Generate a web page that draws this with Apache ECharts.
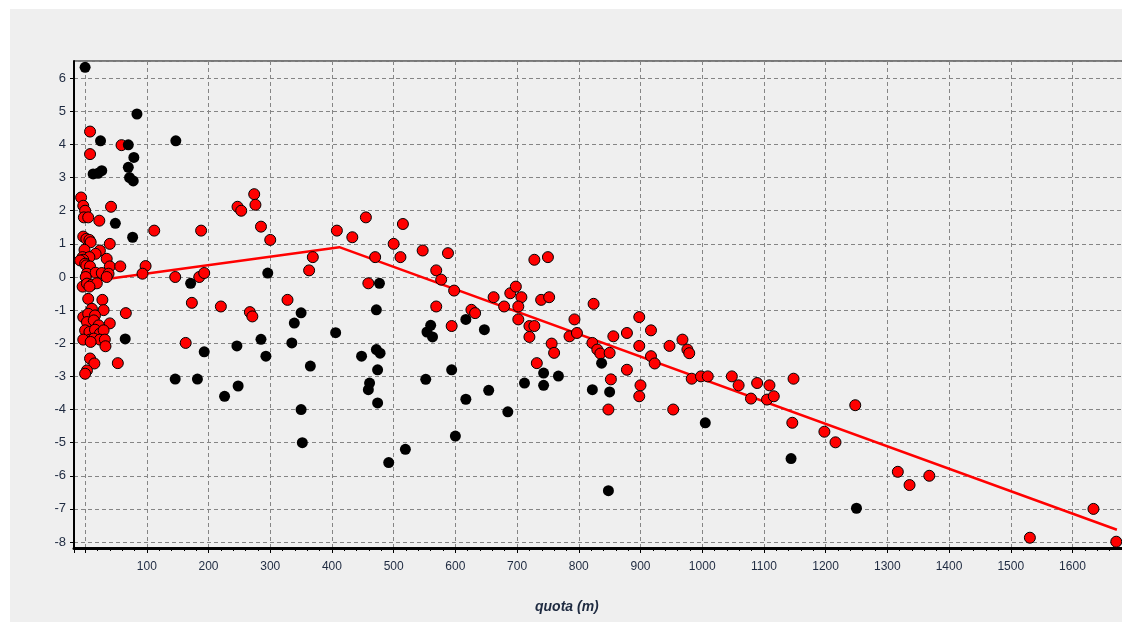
<!DOCTYPE html>
<html>
<head>
<meta charset="utf-8">
<script src="https://cdn.jsdelivr.net/npm/echarts@6/dist/echarts.min.js"></script>
<style>
  html, body { margin: 0; padding: 0; background: #ffffff; overflow: hidden; width: 1122px; height: 622px; }
  #panel { position: absolute; left: 10px; top: 9px; width: 1112px; height: 613px; background: #efefef; }
  #chart { position: absolute; left: 0; top: 0; width: 1140px; height: 622px; }
</style>
</head>
<body>
<div id="panel"></div>
<div id="chart"></div>
<script>
// Red points (quota, residual)
const redX = [8, 59, 8, -6.5, -3, 0, -2, 5, 42, 23, 112, -3, 2, 7, 9, 40, -1, 24, -4, 17, 7, -3, -8, 35,
  0, 2, 8, 40, 57, 98, 93, 3, 17, 27, 38, 1, 35, -4, 3, 11, 19, 7, 5, 28, 30, 66, 11, -3, 5, 16, 3, 14, 22, 40,
  0, 7, 16, 24, 30, 8, -3, 14, 24, 32, 33, 9, 8, 15, 53, 3, 0,
  188, 274, 247, 253, 276, 285, 300, 146, 185, 193, 408, 433, 455, 369, 363, 470, 459, 328, 173, 220, 267, 271, 163,
  515, 500, 511, 547, 588, 569, 577, 598, 569, 594, 626, 632, 662, 679, 689, 698, 707, 702, 702, 728, 750, 739, 752,
  720, 728, 720, 756, 760, 732, 793, 785, 797, 824, 856, 878, 822, 830, 835, 850, 878, 852, 848, 898, 917, 898, 900,
  898, 917, 923, 947, 968, 976, 979, 953, 983, 998, 1009, 1048, 1059, 1079, 1089, 1109, 1105, 1116, 1148, 1146, 1198,
  1216, 1248, 1317, 1336, 1368, 1531, 1634, 1671];
const redY = [4.39, 3.98, 3.71, 2.4, 2.15, 2.0, 1.8, 1.8, 2.12, 1.70, 1.40, 1.22, 1.15, 1.12, 1.05, 1.0, 0.82, 0.8, 0.6, 0.7, 0.6, 0.52, 0.5, 0.55,
  0.4, 0.35, 0.32, 0.32, 0.32, 0.33, 0.1, 0.1, 0.13, 0.12, 0.1, 0.0, 0.0, -0.29, -0.2, -0.23, -0.19, -0.29, -0.66, -0.69, -1.0, -1.09, -0.96, -1.21, -1.11, -1.16, -1.36, -1.31, -1.46, -1.4,
  -1.61, -1.66, -1.59, -1.71, -1.61, -1.89, -1.89, -1.86, -1.89, -1.89, -2.09, -1.96, -2.46, -2.61, -2.6, -2.82, -2.92,
  1.4, 2.5, 2.12, 2.0, 2.18, 1.52, 1.12, 0.0, 0.0, 0.12, 1.4, 1.2, 1.8, 0.6, 0.2, 0.6, -0.19, -0.69, -0.78, -0.89, -1.06, -1.19, -1.99,
  1.6, 1.0, 0.6, 0.8, 0.72, 0.2, -0.08, -0.41, -0.89, -1.48, -0.99, -1.09, -0.61, -0.89, -0.49, -0.29, -0.61, -0.89, -1.28, 0.52, 0.6, -0.69, -0.61,
  -1.48, -1.48, -1.81, -2.01, -2.29, -2.6, -1.28, -1.79, -1.69, -0.81, -1.79, -1.69, -1.99, -2.19, -2.31, -2.29, -2.8, -3.09, -4.0, -1.21, -1.61, -2.08, -3.27,
  -3.6, -2.39, -2.61, -2.08, -1.89, -2.19, -2.3, -4.0, -3.07, -3.0, -3.0, -3.0, -3.27, -3.67, -3.2, -3.27, -3.7, -3.6, -3.07, -4.4, -4.67,
  -4.99, -3.87, -5.88, -6.28, -6.0, -7.87, -7.0, -7.99];

// Black points (quota, residual)
const blackX = [0, 84, 25, 70, 79, 70, 13, 21, 27, 72, 78, 49, 77, 65, 147, 171, 296, 477, 350, 339, 406, 472, 193, 246,
  285, 293, 335, 365, 448, 472, 478, 474, 146, 182, 248, 226, 461, 459, 474, 350, 352, 492, 560, 554, 563, 617, 647,
  743, 767, 743, 712, 594, 552, 654, 617, 685, 600, 519, 837, 822, 850, 848, 1005, 1144, 1250];
const blackY = [6.33, 4.92, 4.11, 3.99, 3.61, 3.31, 3.11, 3.13, 3.21, 3.0, 2.9, 1.62, 1.2, -1.87, 4.11, -0.19, 0.12, -0.19, -1.08, -1.39, -1.68, -0.99, -2.26, -2.08,
  -1.88, -2.39, -1.99, -2.69, -2.39, -2.19, -2.3, -2.8, -3.08, -3.08, -3.29, -3.6, -3.2, -3.4, -3.8, -4.0, -5.0, -5.6, -1.46, -1.66, -1.81, -1.28, -1.59,
  -2.9, -2.99, -3.27, -3.2, -2.8, -3.09, -3.42, -3.69, -4.07, -4.8, -5.2, -2.6, -3.4, -3.47, -6.45, -4.4, -5.48, -6.98];

// Fitted trend (piecewise line)
const lineX = [3, 412, 1672];
const lineY = [-0.14, 0.9, -7.63];

const xAxisName = 'quota (m)';

const zip = (xs, ys) => xs.map((x, i) => [x, ys[i]]);

const chart = echarts.init(document.getElementById('chart'), null, { renderer: 'canvas' });
const labelColor = '#1e2a40';
const font = 'Liberation Sans, Arial, sans-serif';

chart.setOption({
  animation: false,
  backgroundColor: 'transparent',
  grid: {
    left: 74, top: 61, width: 1054, height: 487,
    show: true, borderColor: '#000', borderWidth: 1, backgroundColor: 'transparent'
  },
  xAxis: {
    type: 'value', min: -18, max: 1690, splitNumber: 17,
    axisLine: { show: true, onZero: false, lineStyle: { color: '#000', width: 3 } },
    axisTick: { show: true, length: 5, lineStyle: { color: '#000' } },
    minorTick: { show: true, splitNumber: 5, length: 3, lineStyle: { color: '#000' } },
    axisLabel: {
      showMinLabel: false, showMaxLabel: false, margin: 13,
      color: labelColor, fontSize: 12, fontFamily: font,
      formatter: v => (v > 0 ? String(v) : '')
    },
    splitLine: { show: true, lineStyle: { color: '#858585', width: 1, type: [4, 3] } }
  },
  yAxis: {
    type: 'value', min: -8.18, max: 6.52, splitNumber: 14,
    axisLine: { show: true, onZero: false, lineStyle: { color: '#000', width: 2 } },
    axisTick: { show: true, length: 4, lineStyle: { color: '#000' } },
    axisLabel: {
      showMinLabel: false, showMaxLabel: false, margin: 8,
      color: labelColor, fontSize: 13, fontFamily: font
    },
    splitLine: { show: true, lineStyle: { color: '#858585', width: 1, type: [4, 3] } }
  },
  graphic: [{
    type: 'text', left: 567 - 32, top: 600,
    style: { text: xAxisName, font: 'italic bold 14px ' + font, fill: '#1e2a40' }
  }],
  series: [
    {
      type: 'line', data: zip(lineX, lineY), symbol: 'none', z: 2,
      lineStyle: { color: '#ff0000', width: 2.5 }
    },
    {
      type: 'scatter', data: zip(redX, redY), symbol: 'circle', symbolSize: 11, z: 3,
      itemStyle: { color: '#ff0000', borderColor: '#000', borderWidth: 1, opacity: 1 }
    },
    {
      type: 'scatter', data: zip(blackX, blackY), symbol: 'circle', symbolSize: 11, z: 4,
      itemStyle: { color: '#000', opacity: 1 }
    }
  ]
});
</script>
</body>
</html>
